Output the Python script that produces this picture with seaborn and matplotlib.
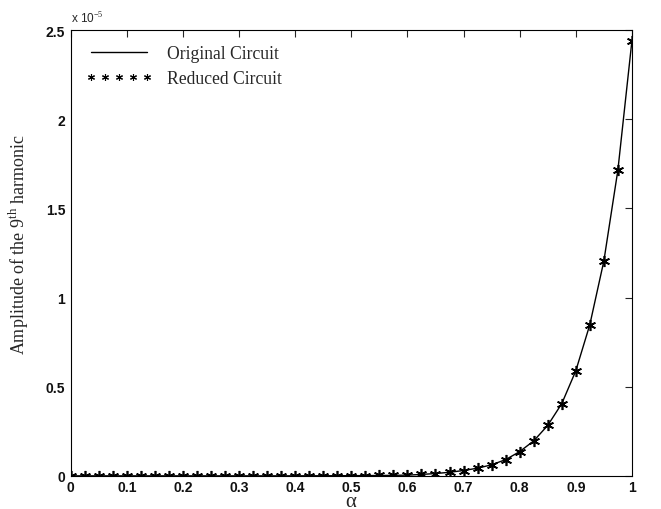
import numpy as np
import pandas as pd
import matplotlib
matplotlib.use("Agg")
import matplotlib.pyplot as plt
from matplotlib.lines import Line2D
import seaborn as sns

# Control parameter alpha and harmonic amplitude (units of 1e-5)
alpha = [0.000, 0.025, 0.050, 0.075, 0.100, 0.125, 0.150, 0.175, 0.200, 0.225,
         0.250, 0.275, 0.300, 0.325, 0.350, 0.375, 0.400, 0.425, 0.450, 0.475,
         0.500, 0.525, 0.550, 0.575, 0.600, 0.625, 0.650, 0.675, 0.700, 0.725,
         0.750, 0.775, 0.800, 0.825, 0.850, 0.875, 0.900, 0.925, 0.950, 0.975,
         1.000]
original = [0.0, 0.0, 0.0, 0.0, 0.0, 0.0, 0.0, 0.0, 0.0, 0.0,
            0.0, 0.0, 0.0, 0.0, 0.0, 0.0001, 0.0002, 0.0003, 0.0005, 0.0007,
            0.001, 0.0015, 0.002, 0.003, 0.004, 0.008, 0.013, 0.020, 0.030, 0.043,
            0.062, 0.091, 0.136, 0.196, 0.283, 0.405, 0.589, 0.848, 1.205, 1.715,
            2.440]
reduced = list(original)

x_ticks = [0, 0.1, 0.2, 0.3, 0.4, 0.5, 0.6, 0.7, 0.8, 0.9, 1]
x_tick_labels = ["0", "0.1", "0.2", "0.3", "0.4", "0.5", "0.6", "0.7", "0.8", "0.9", "1"]
y_ticks = [0, 0.5, 1, 1.5, 2, 2.5]
y_tick_labels = ["0", "0.5", "1", "1.5", "2", "2.5"]

df = pd.DataFrame({"alpha": alpha, "original": original, "reduced": reduced})

sns.set_style("white")
plt.rcParams["font.family"] = ["Liberation Sans", "DejaVu Sans"]
plt.rcParams["mathtext.fontset"] = "custom"
plt.rcParams["mathtext.rm"] = "Liberation Serif"

fig = plt.figure(figsize=(6.61, 5.10), dpi=100)
ax = fig.add_axes([0.107, 0.065, 0.849, 0.874])

sns.lineplot(data=df, x="alpha", y="original", ax=ax, color="black",
             linewidth=1.0, estimator=None, sort=False)
asterisk = (6, 2, 0)
ax.plot(df["alpha"], df["reduced"], linestyle="none", marker=asterisk,
        markersize=8, markeredgewidth=1.2, color="black")

ax.set_xlim(0, 1)
ax.set_ylim(0, 2.5)
ax.set_xticks(x_ticks)
ax.set_xticklabels(x_tick_labels)
ax.set_yticks(y_ticks)
ax.set_yticklabels(y_tick_labels)
ax.tick_params(direction="in", top=True, right=True, length=5, width=0.8,
               labelsize=10, pad=4)
ax.tick_params(axis="x", pad=3)
for lbl in ax.get_xticklabels() + ax.get_yticklabels():
    lbl.set_fontweight("bold")
    lbl.set_color("#111111")
for sp in ax.spines.values():
    sp.set_color("black")
    sp.set_linewidth(0.8)

ax.set_xlabel("")
fig.text(0.531, 0.006, "$\\mathrm{\\alpha}$", fontsize=15, ha="center",
         va="baseline")
serif = ["Liberation Serif", "DejaVu Serif"]
ax.set_ylabel("Amplitude of the 9$^{\\mathrm{th}}$ harmonic", fontsize=13,
              family=serif)
ax.yaxis.set_label_coords(-0.07, 0.522)

ax.text(0.0, 1.01, "x 10$^{-5}$", transform=ax.transAxes, fontsize=8.5,
        ha="left", va="bottom")

handles = [Line2D([0], [0], color="black", linewidth=1.0),
           Line2D([0], [0], linestyle="none", marker=asterisk, markersize=5,
                  markeredgewidth=0.8, color="black")]
leg = ax.legend(handles, ["Original Circuit", "Reduced Circuit"],
                loc="upper left", frameon=False, numpoints=5,
                handlelength=3.8, handletextpad=0.8, labelspacing=0.45,
                borderaxespad=0.45, prop={"family": serif, "size": 12.7})

fig.savefig("out.png", dpi=100)
